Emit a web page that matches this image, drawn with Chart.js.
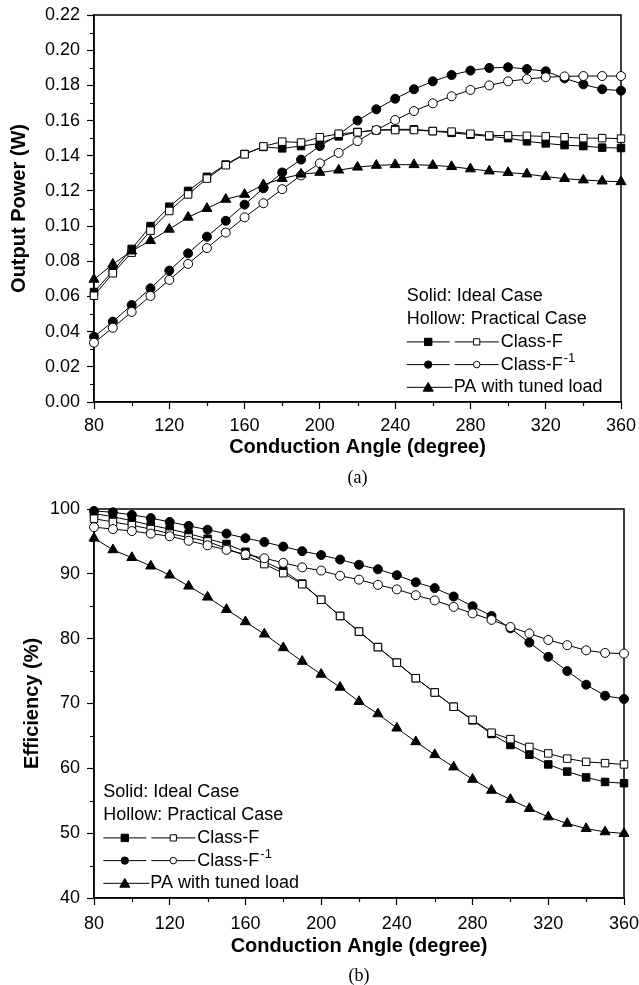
<!DOCTYPE html>
<html>
<head>
<meta charset="utf-8">
<script src="https://cdn.jsdelivr.net/npm/chart.js@4.4.1/dist/chart.umd.min.js"></script>
<style>
  html, body { margin: 0; padding: 0; background: #fff; }
  .panel { position: absolute; left: 0; width: 639px; }
  #top { top: 0; height: 490px; }
  #bottom { top: 490px; height: 495px; }
</style>
</head>
<body>
<div class="panel" id="top"><canvas id="power-chart" width="639" height="490"></canvas></div>
<div class="panel" id="bottom"><canvas id="eff-chart" width="639" height="495"></canvas></div>
<script>
// conduction angle sweep (degree)
const angles = [80, 90, 100, 110, 120, 130, 140, 150, 160, 170, 180, 190, 200, 210, 220,
                230, 240, 250, 260, 270, 280, 290, 300, 310, 320, 330, 340, 350, 360];

// (a) output power, W
const powerFIdeal = [0.0625, 0.0745, 0.0870, 0.1000, 0.1110, 0.1200, 0.1280, 0.1350, 0.1410, 0.1450,
                     0.1442, 0.1455, 0.1470, 0.1510, 0.1535, 0.1545, 0.1550, 0.1550, 0.1540, 0.1530,
                     0.1520, 0.1510, 0.1500, 0.1482, 0.1470, 0.1460, 0.1455, 0.1446, 0.1444];
const powerFPractical = [0.0604, 0.0732, 0.0849, 0.0974, 0.1086, 0.1180, 0.1270, 0.1346, 0.1408, 0.1453,
                         0.1480, 0.1475, 0.1505, 0.1525, 0.1533, 0.1546, 0.1546, 0.1546, 0.1540, 0.1537,
                         0.1525, 0.1515, 0.1515, 0.1513, 0.1510, 0.1505, 0.1500, 0.1500, 0.1497];
const powerFinvIdeal = [0.0371, 0.0457, 0.0551, 0.0646, 0.0747, 0.0845, 0.0940, 0.1030, 0.1122, 0.1215,
                        0.1305, 0.1378, 0.1455, 0.1520, 0.1600, 0.1664, 0.1724, 0.1778, 0.1823, 0.1859,
                        0.1884, 0.1899, 0.1903, 0.1893, 0.1880, 0.1840, 0.1806, 0.1778, 0.1770];
const powerFinvPractical = [0.0337, 0.0422, 0.0512, 0.0603, 0.0694, 0.0785, 0.0875, 0.0963, 0.1050, 0.1130,
                            0.1210, 0.1288, 0.1357, 0.1416, 0.1483, 0.1546, 0.1603, 0.1654, 0.1698, 0.1738,
                            0.1774, 0.1800, 0.1823, 0.1836, 0.1846, 0.1851, 0.1853, 0.1853, 0.1853];
const powerTuned = [0.0697, 0.0783, 0.0858, 0.0917, 0.0982, 0.1050, 0.1100, 0.1152, 0.1180, 0.1235,
                    0.1270, 0.1295, 0.1305, 0.1318, 0.1335, 0.1345, 0.1349, 0.1349, 0.1345, 0.1338,
                    0.1325, 0.1313, 0.1304, 0.1296, 0.1281, 0.1270, 0.1262, 0.1256, 0.1252];

// (b) drain efficiency, %
const effFIdeal = [99.3, 98.8, 98.2, 97.5, 96.9, 96.2, 95.4, 94.6, 93.4, 91.9,
                   90.5, 88.5, 86.0, 83.5, 81.1, 78.7, 76.3, 73.9, 71.7, 69.5,
                   67.4, 65.3, 63.6, 62.1, 60.6, 59.5, 58.6, 57.9, 57.7];
const effFPractical = [98.5, 98.0, 97.5, 96.9, 96.2, 95.6, 95.0, 93.9, 92.8, 91.5,
                       90.1, 88.4, 86.0, 83.5, 81.1, 78.7, 76.3, 73.9, 71.7, 69.5,
                       67.5, 65.5, 64.5, 63.3, 62.3, 61.5, 61.0, 60.8, 60.6];
const effFinvIdeal = [99.7, 99.5, 99.1, 98.6, 98.0, 97.4, 96.8, 96.2, 95.5, 94.9,
                      94.2, 93.5, 92.9, 92.2, 91.4, 90.7, 89.8, 88.7, 87.8, 86.5,
                      85.0, 83.5, 81.6, 79.4, 77.2, 75.0, 72.9, 71.2, 70.7];
const effFinvPractical = [97.2, 96.9, 96.6, 96.2, 95.8, 95.1, 94.4, 93.7, 93.0, 92.4,
                          91.7, 91.0, 90.5, 89.7, 89.1, 88.3, 87.6, 86.7, 85.9, 84.9,
                          83.9, 82.9, 81.8, 80.8, 79.8, 79.0, 78.2, 77.8, 77.7];
const effTuned = [95.5, 93.7, 92.5, 91.2, 89.8, 88.1, 86.4, 84.5, 82.6, 80.7,
                  78.6, 76.5, 74.5, 72.5, 70.3, 68.4, 66.2, 64.1, 62.1, 60.2,
                  58.3, 56.6, 55.2, 53.8, 52.5, 51.5, 50.7, 50.2, 49.95];

const keyLines = ['Solid: Ideal Case', 'Hollow: Practical Case'];
const keyClassF = 'Class-F';
const keyTuned = 'PA with tuned load';

const SANS = '"Liberation Sans", Arial, sans-serif';
const tickFont = { family: SANS, size: 18 };
const titleFont = { family: SANS, size: 20, weight: 'bold' };

function xy(values) {
    return angles.map((a, i) => ({ x: a, y: values[i] }));
}

function series(label, values, style, filled, radius, order) {
    return {
        label: label,
        data: xy(values),
        borderColor: '#000',
        borderWidth: 1,
        pointStyle: style,
        pointRadius: radius,
        pointHoverRadius: radius,
        pointBackgroundColor: filled ? '#000' : '#fff',
        pointBorderColor: '#000',
        pointBorderWidth: 1,
        tension: 0,
        clip: false,
        order: order
    };
}

// closed box around the plot area
const frame = {
    id: 'frame',
    beforeDatasetsDraw(chart) {
        const { ctx, chartArea: a } = chart;
        ctx.save();
        ctx.strokeStyle = '#000';
        ctx.lineWidth = 1.5;
        ctx.strokeRect(a.left, a.top, a.right - a.left, a.bottom - a.top);
        ctx.restore();
    }
};

// short ticks halfway between the labelled ones
const minorTicks = {
    id: 'minorTicks',
    afterDraw(chart) {
        const { ctx, chartArea: a, scales } = chart;
        ctx.save();
        ctx.strokeStyle = '#000';
        ctx.lineWidth = 1.2;
        ctx.beginPath();
        const xt = scales.x.ticks;
        for (let i = 0; i < xt.length - 1; i++) {
            const px = Math.round(scales.x.getPixelForValue((xt[i].value + xt[i + 1].value) / 2)) + 0.5;
            ctx.moveTo(px, a.bottom);
            ctx.lineTo(px, a.bottom + 4);
        }
        const yt = scales.y.ticks;
        for (let i = 0; i < yt.length - 1; i++) {
            const py = Math.round(scales.y.getPixelForValue((yt[i].value + yt[i + 1].value) / 2)) + 0.5;
            ctx.moveTo(a.left, py);
            ctx.lineTo(a.left - 4, py);
        }
        ctx.stroke();
        ctx.restore();
    }
};

// hand-built key: two lines of text, paired solid/hollow markers, one single
const caseKey = {
    id: 'caseKey',
    afterDraw(chart, args, opts) {
        const { ctx, chartArea: a } = chart;
        const x0 = opts.left;
        const rowY = i => a.bottom - 105.5 + i * 22.7;
        const mark = (style, filled, r, x, y) => {
            ctx.fillStyle = filled ? '#000' : '#fff';
            Chart.helpers.drawPoint(ctx, { pointStyle: style, radius: r, borderWidth: 1, rotation: 0 }, x, y);
        };
        const seg = (x1, x2, y) => {
            ctx.beginPath();
            ctx.moveTo(x1, y);
            ctx.lineTo(x2, y);
            ctx.stroke();
        };
        ctx.save();
        ctx.strokeStyle = '#000';
        ctx.lineWidth = 1;
        ctx.font = '18px ' + SANS;
        ctx.textBaseline = 'middle';
        ctx.textAlign = 'left';
        ctx.fillStyle = '#000';
        ctx.fillText(keyLines[0], x0, rowY(0));
        ctx.fillText(keyLines[1], x0, rowY(1));

        [['rect', 5.2, 4.4], ['circle', 3.7, 3.3]].forEach(([style, rSolid, rHollow], k) => {
            const y = rowY(2 + k);
            seg(x0, x0 + 43, y);
            seg(x0 + 48, x0 + 92, y);
            mark(style, true, rSolid, x0 + 21.5, y);
            mark(style, false, rHollow, x0 + 70, y);
            ctx.fillStyle = '#000';
            ctx.font = '18px ' + SANS;
            ctx.fillText(keyClassF, x0 + 94, y);
            if (k === 1) {
                const w = ctx.measureText(keyClassF).width;
                ctx.font = '13px ' + SANS;
                ctx.fillText('-1', x0 + 94 + w + 1, y - 6);
            }
        });

        const yT = rowY(4);
        seg(x0, x0 + 46, yT);
        mark('triangle', true, 5.8, x0 + 21.5, yT + 1);
        ctx.fillStyle = '#000';
        ctx.font = '18px ' + SANS;
        ctx.fillText(keyTuned, x0 + 47, yT);
        ctx.restore();
    }
};

// panel letter under the x title
const panelTag = {
    id: 'panelTag',
    afterDraw(chart, args, opts) {
        const { ctx, chartArea: a } = chart;
        ctx.save();
        ctx.fillStyle = '#000';
        ctx.font = '18px "Liberation Serif", "Times New Roman", serif';
        ctx.textAlign = 'center';
        ctx.textBaseline = 'middle';
        ctx.fillText(opts.text, (a.left + a.right) / 2, opts.y);
        ctx.restore();
    }
};

function scales(o) {
    return {
        x: {
            type: 'linear',
            min: 80,
            max: 360,
            ticks: { stepSize: 40, color: '#000', font: tickFont, padding: o.xTickPad, maxRotation: 0, autoSkip: false },
            grid: { drawOnChartArea: false, tickLength: 7, tickColor: '#000', tickWidth: 1.2 },
            border: { color: '#000', width: 1.5 },
            title: { display: true, text: 'Conduction Angle (degree)', color: '#000', font: titleFont,
                     padding: { top: 0, bottom: o.xTitlePad } },
            afterFit(scale) {
                scale.height = o.xHeight;
                scale.paddingLeft = 0;
                scale.paddingRight = 0;
            }
        },
        y: {
            min: o.yMin,
            max: o.yMax,
            ticks: { stepSize: o.yStep, color: '#000', font: tickFont, padding: 7,
                     callback: o.yFormat },
            grid: { drawOnChartArea: false, tickLength: 7, tickColor: '#000', tickWidth: 1.2 },
            border: { color: '#000', width: 1.5 },
            title: { display: true, text: o.yTitle, color: '#000', font: titleFont,
                     padding: { top: o.yTitlePad, bottom: 0 } },
            afterFit(scale) {
                scale.width = 94;
                scale.paddingTop = 0;
                scale.paddingBottom = 0;
            }
        }
    };
}

function datasets(fIdeal, fPractical, finvIdeal, finvPractical, tuned) {
    return [
        series('Class-F (ideal)', fIdeal, 'rect', true, 5.3, 4),
        series('Class-F (practical)', fPractical, 'rect', false, 5.3, 2),
        series('Class-F-1 (ideal)', finvIdeal, 'circle', true, 4.5, 3),
        series('Class-F-1 (practical)', finvPractical, 'circle', false, 4.5, 1),
        series('PA with tuned load', tuned, 'triangle', true, 5.8, 0)
    ];
}

function common(o) {
    return {
        responsive: false,
        animation: false,
        events: [],
        layout: { padding: { top: o.padTop, right: o.padRight, left: 0, bottom: 0 } },
        scales: scales(o),
        plugins: {
            legend: { display: false },
            tooltip: { enabled: false },
            caseKey: { left: o.keyLeft },
            panelTag: { text: o.tag, y: o.tagY }
        }
    };
}

new Chart(document.getElementById('power-chart').getContext('2d'), {
    type: 'line',
    data: { datasets: datasets(powerFIdeal, powerFPractical, powerFinvIdeal, powerFinvPractical, powerTuned) },
    options: common({
        padTop: 15, padRight: 18,
        xHeight: 88, xTickPad: 6, xTitlePad: 31,
        yMin: 0, yMax: 0.22, yStep: 0.02, yFormat: v => v.toFixed(2),
        yTitle: 'Output Power (W)', yTitlePad: 7,
        keyLeft: 406.7, tag: '(a)', tagY: 478
    }),
    plugins: [frame, minorTicks, caseKey, panelTag]
});

new Chart(document.getElementById('eff-chart').getContext('2d'), {
    type: 'line',
    data: { datasets: datasets(effFIdeal, effFPractical, effFinvIdeal, effFinvPractical, effTuned) },
    options: common({
        padTop: 19, padRight: 15,
        xHeight: 87, xTickPad: 8, xTitlePad: 27,
        yMin: 40, yMax: 100, yStep: 10, yFormat: v => v,
        yTitle: 'Efficiency (%)', yTitlePad: 20,
        keyLeft: 103.3, tag: '(b)', tagY: 486
    }),
    plugins: [frame, minorTicks, caseKey, panelTag]
});
</script>
</body>
</html>
